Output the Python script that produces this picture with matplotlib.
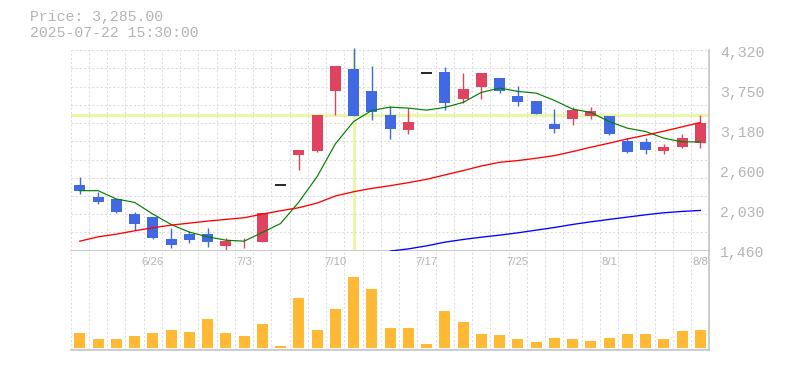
import numpy as np
import matplotlib
matplotlib.use('Agg')
import matplotlib.pyplot as plt
from matplotlib.transforms import offset_copy

# trading days shown (6/20 .. 8/8)
dates = ['6/20', '6/23', '6/24', '6/25', '6/26', '6/27', '6/30', '7/1', '7/2', '7/3',
         '7/4', '7/7', '7/8', '7/9', '7/10', '7/11', '7/14', '7/15', '7/16', '7/17',
         '7/18', '7/22', '7/23', '7/24', '7/25', '7/28', '7/29', '7/30', '7/31', '8/1',
         '8/4', '8/5', '8/6', '8/7', '8/8']
date_labels = ['6/26', '7/3', '7/10', '7/17', '7/25', '8/1', '8/8']

opens = [2397, 2225, 2197, 1982, 1939, 1625, 1696, 1696, 1529, 1582,
         1586, 2392, 2826, 2883, 3731, 4051, 3741, 3398, 3188, 3994,
         4013, 3617, 3789, 3927, 3669, 3598, 3269, 3340, 3383, 3383,
         3026, 3012, 2883, 2940, 2997]
highs = [2516, 2297, 2197, 2011, 1939, 1782, 1734, 1782, 1639, 1639,
         1996, 2392, 2897, 3398, 4098, 4345, 4098, 3526, 3498, 3994,
         4084, 3998, 3998, 3927, 3803, 3598, 3484, 3512, 3512, 3383,
         3069, 3069, 2983, 3126, 3398]
lows = [2268, 2130, 1996, 1753, 1625, 1501, 1572, 1510, 1467, 1501,
        1586, 2392, 2611, 2869, 3398, 3383, 3326, 3059, 3131, 3994,
        3460, 3569, 3627, 3703, 3526, 3412, 3145, 3255, 3340, 3112,
        2854, 2840, 2840, 2926, 2926]
closes = [2316, 2154, 2011, 1844, 1639, 1539, 1610, 1582, 1596, 1590,
          1996, 2392, 2897, 3398, 4098, 3383, 3431, 3202, 3298, 3994,
          3560, 3770, 3998, 3731, 3584, 3412, 3198, 3469, 3455, 3126,
          2869, 2897, 2940, 3069, 3285]

ma5 = [2316, 2316, 2197, 2149, 1982, 1834, 1725, 1658, 1610, 1596,
       1720, 1848, 2154, 2516, 2983, 3302, 3460, 3507, 3493, 3464,
       3503, 3574, 3717, 3779, 3731, 3707, 3603, 3479, 3431, 3302,
       3207, 3159, 3064, 3012, 3012]
ma25 = [1596, 1658, 1696, 1744, 1787, 1825, 1853, 1882, 1906, 1930,
        1982, 2030, 2073, 2139, 2240, 2301, 2349, 2387, 2430, 2478,
        2540, 2602, 2668, 2721, 2745, 2778, 2816, 2873, 2935, 2993,
        3054, 3107, 3164, 3226, 3288]
ma75 = [None] * 17 + [1455, 1486, 1529, 1582, 1620, 1653, 1682, 1715, 1753,
                      1791, 1834, 1872, 1906, 1939, 1972, 2001, 2020, 2034]

volumes = [4500, 2700, 2700, 3600, 4500, 5400, 4800, 8700, 4500, 3600,
           7200, 600, 15000, 5400, 11700, 21300, 17700, 6000, 6000, 1200,
           11100, 7800, 4200, 3900, 2700, 1800, 3000, 2700, 2100, 3000,
           4200, 4200, 2700, 5100, 5400]

price_ticks = [1460, 2030, 2600, 3180, 3750, 4320]
price_min, price_max = 1460, 4320
cursor_price = 3392
cursor_day = 15

up_color = '#e0435f'
down_color = '#4169e1'
text_color = '#b4b4b4'
grid_color = '#dcdcdc'
axis_color = '#c4c4c4'

fig = plt.figure(figsize=(7.85, 3.70), dpi=100)
ax = fig.add_axes([0.0901, 0.3224, 0.8137, 0.5422])
axv = fig.add_axes([0.0901, 0.0541, 0.8137, 0.2683])

x = np.arange(len(dates))
n = len(dates)

# grid: square cells, 11 rows in the price panel
for a in (ax, axv):
    a.set_xlim(-0.5, n - 0.5)
    a.set_xticks(np.arange(-0.5, n, 1.0), minor=True)
    a.set_xticks([])
    a.grid(True, which='minor', axis='x', color=grid_color, lw=0.75, ls=(0, (2, 2)))
    a.tick_params(which='both', length=0, labelleft=False, labelbottom=False)
    for s in ('left', 'top'):
        a.spines[s].set_visible(False)
    for s in ('right', 'bottom'):
        a.spines[s].set_color(axis_color)
        a.spines[s].set_linewidth(1.2)

ax.set_ylim(price_min, price_max)
ax.set_yticks(np.linspace(price_min, price_max, 12), minor=True)
ax.set_yticks([])
ax.grid(True, which='minor', axis='y', color=grid_color, lw=0.75, ls=(0, (2, 2)))

# crosshair
ax.axhline(cursor_price, color='#e8f7a8', lw=2.3, zorder=1)
ax.axvline(cursor_day, color='#e8f7a8', lw=2.3, zorder=1)

# candles
for i in range(n):
    o, h, l, c = opens[i], highs[i], lows[i], closes[i]
    if c > o:
        col = up_color
    elif c < o:
        col = down_color
    else:
        col = 'black'
    if h > l:
        ax.vlines(x[i], l, h, color=col, lw=1.0, zorder=2, clip_on=False)
    if c != o:
        ax.bar(x[i], abs(c - o), bottom=min(o, c), width=0.6, color=col, zorder=3)
    else:
        ax.hlines(o, x[i] - 0.3, x[i] + 0.3, color=col, lw=1.2, zorder=3)

ma75_arr = np.array([np.nan if v is None else v for v in ma75], dtype=float)
ax.plot(x, ma5, color='#008000', lw=0.85, zorder=4)
ax.plot(x, ma25, color='#ff0000', lw=0.95, zorder=4)
ax.plot(x, ma75_arr, color='#0000ff', lw=0.95, zorder=4)

# price labels on the right
lab_tr = offset_copy(ax.get_yaxis_transform(), fig=fig, x=10.5, y=-2.5, units='dots')
for p in price_ticks:
    ax.text(1.0, p, f'{p:,}', transform=lab_tr, ha='left', va='center',
            family='Liberation Mono', fontsize=10.7, color=text_color)

# volume
axv.set_ylim(-600, 29100)
axv.set_yticks([])
axv.bar(x, volumes, width=0.6, color='#ffb935', zorder=2)
for d in date_labels:
    i = dates.index(d)
    axv.text(x[i], 0.889, d, transform=axv.get_xaxis_transform(), ha='center', va='center',
             family='Liberation Sans', fontsize=8.2, color=text_color, zorder=3)

fig.text(30 / 785, 1 - 17.5 / 370, 'Price: 3,285.00', ha='left', va='center',
         family='Liberation Mono', fontsize=10.7, color=text_color)
fig.text(30 / 785, 1 - 33 / 370, '2025-07-22 15:30:00', ha='left', va='center',
         family='Liberation Mono', fontsize=10.7, color=text_color)

fig.savefig('out.png', dpi=100)
